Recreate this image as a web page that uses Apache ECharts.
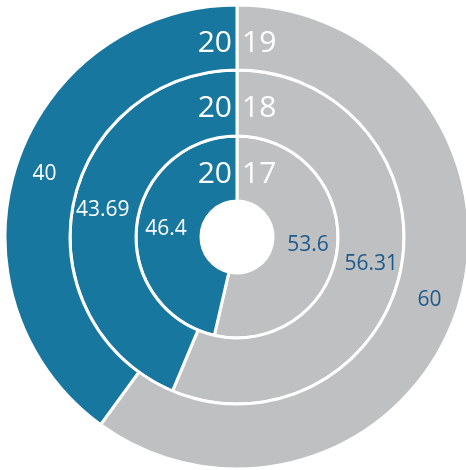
<!DOCTYPE html>
<html>
<head>
<meta charset="utf-8">
<script src="https://cdn.jsdelivr.net/npm/echarts@6/dist/echarts.min.js"></script>
<style>html,body{margin:0;padding:0;background:#fff;}#c{width:466px;height:470px;}</style>
</head>
<body>
<div id="c"></div>
<script>
const years = ['2017', '2018', '2019'];
const blueValues = [46.4, 43.69, 40];
const grayValues = [53.6, 56.31, 60];

const BLUE = '#18779f';
const GRAY = '#bfc0c2';
const LABEL_DARK = '#1d5a8c';
const FONT = 'Open Sans';
const cx = 237, cy = 237;
const rings = [[36, 101], [101, 167], [167, 232]];

const chart = echarts.init(document.getElementById('c'), null, {renderer: 'canvas'});

const series = years.map((y, i) => ({
  type: 'pie',
  name: y,
  center: [cx, cy],
  radius: rings[i],
  startAngle: 90,
  clockwise: true,
  silent: true,
  avoidLabelOverlap: false,
  itemStyle: {borderColor: '#fff', borderWidth: 3},
  label: {show: true, position: 'inside', fontFamily: FONT, fontSize: 21, formatter: '{c}'},
  labelLine: {show: false},
  data: [
    {value: grayValues[i], name: 'gray', itemStyle: {color: GRAY}, label: {color: LABEL_DARK}},
    {value: blueValues[i], name: 'blue', itemStyle: {color: BLUE}, label: {color: '#fff'}}
  ]
}));

const graphics = [];
years.forEach((y, i) => {
  const ty = cy - rings[i][1] + 38;
  graphics.push({type: 'text', x: cx - 5, y: ty, z: 100,
    style: {text: y.slice(0, 2), fill: '#fff', font: '30px "' + FONT + '"', textAlign: 'right', textVerticalAlign: 'middle'}});
  graphics.push({type: 'text', x: cx + 5, y: ty, z: 100,
    style: {text: y.slice(2), fill: '#fff', font: '30px "' + FONT + '"', textAlign: 'left', textVerticalAlign: 'middle'}});
});

chart.setOption({
  animation: false,
  backgroundColor: '#fff',
  series: series,
  graphic: graphics
});
</script>
</body>
</html>
